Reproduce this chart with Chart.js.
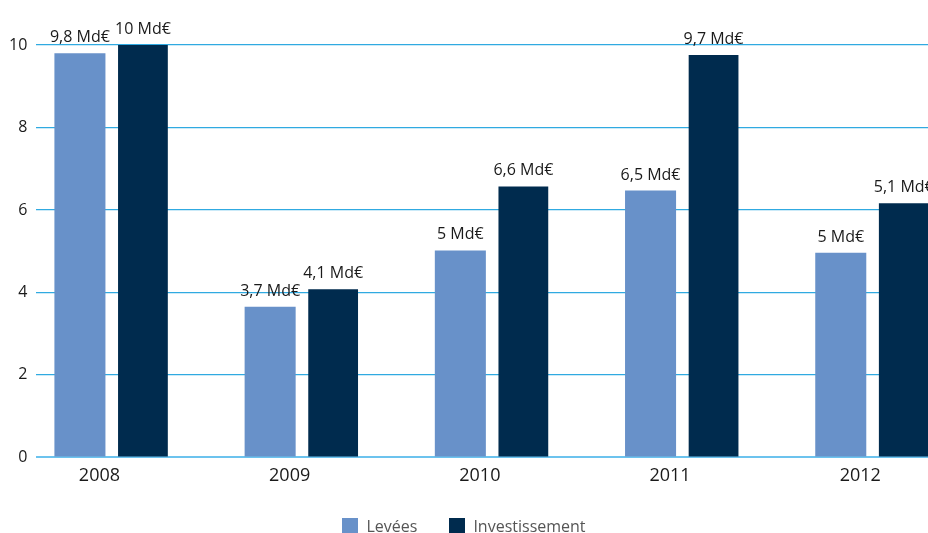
<!DOCTYPE html>
<html>
<head>
<meta charset="utf-8">
<script src="https://cdn.jsdelivr.net/npm/chart.js@4.4.1/dist/chart.umd.min.js"></script>
<style>
  html, body { margin: 0; padding: 0; background: #ffffff; }
  #wrap { width: 928px; height: 533px; position: relative; }
</style>
</head>
<body>
<div id="wrap"><canvas id="c" width="928" height="533"></canvas></div>
<script>
// ---- data ----
const years = ['2008', '2009', '2010', '2011', '2012'];
const levees = [9.8, 3.65, 5.02, 6.47, 4.96];
const investissement = [10.0, 4.08, 6.57, 9.76, 6.16];
const leveesLabels = ['9,8 Md€', '3,7 Md€', '5 Md€', '6,5 Md€', '5 Md€'];
const investLabels = ['10 Md€', '4,1 Md€', '6,6 Md€', '9,7 Md€', '5,1 Md€'];
const seriesNames = ['Levées', 'Investissement'];
const yTicks = [0, 2, 4, 6, 8, 10];

const FONT = "'Open Sans', 'Liberation Sans', sans-serif";
const COL_L = '#6891C9';
const COL_I = '#002B4E';

const valueLabels = [leveesLabels, investLabels];

const barLabelPlugin = {
  id: 'barLabels',
  afterDatasetsDraw(chart) {
    const ctx = chart.ctx;
    ctx.save();
    ctx.font = '16px ' + FONT;
    ctx.fillStyle = '#1a1a1a';
    ctx.textAlign = 'center';
    ctx.textBaseline = 'alphabetic';
    chart.data.datasets.forEach((ds, di) => {
      const meta = chart.getDatasetMeta(di);
      meta.data.forEach((el, i) => {
        ctx.fillText(valueLabels[di][i], el.x, el.y - 11);
      });
    });
    ctx.restore();
  }
};

const legendPlugin = {
  id: 'customLegend',
  afterDraw(chart) {
    const ctx = chart.ctx;
    ctx.save();
    ctx.font = '16px ' + FONT;
    const box = 16, boxH = 15, txtGap = 8, itemGap = 32;
    const items = chart.data.datasets.map(ds => ({ text: ds.label, color: ds.backgroundColor }));
    const widths = items.map(it => box + txtGap + ctx.measureText(it.text).width);
    const total = widths.reduce((a, b) => a + b, 0) + itemGap * (items.length - 1);
    let x = (chart.width - total) / 2;
    const boxTop = 518;
    items.forEach((it, i) => {
      ctx.fillStyle = it.color;
      ctx.fillRect(Math.round(x), boxTop, box, boxH);
      ctx.fillStyle = '#555555';
      ctx.textAlign = 'left';
      ctx.textBaseline = 'alphabetic';
      ctx.fillText(it.text, x + box + txtGap, 532);
      x += widths[i] + itemGap;
    });
    ctx.restore();
  }
};

new Chart(document.getElementById('c'), {
  type: 'bar',
  data: {
    datasets: [
      {
        label: seriesNames[0],
        data: years.map((y, i) => ({ x: i, y: levees[i] })),
        backgroundColor: COL_L,
        categoryPercentage: 0.6625,
        barPercentage: 0.81
      },
      {
        label: seriesNames[1],
        data: years.map((y, i) => ({ x: i, y: investissement[i] })),
        backgroundColor: COL_I,
        categoryPercentage: 0.6625,
        barPercentage: 0.79
      }
    ]
  },
  options: {
    responsive: false,
    animation: false,
    devicePixelRatio: 1,
    layout: { padding: { top: 45, left: 0, right: 0, bottom: 38 } },
    plugins: {
      legend: { display: false },
      tooltip: { enabled: false }
    },
    scales: {
      x: {
        type: 'linear',
        offset: false,
        min: -0.395,
        max: 4.293,
        grid: { display: false, drawTicks: false, offset: false },
        border: { display: false },
        afterBuildTicks(scale) {
          scale.ticks = years.map((_, i) => ({ value: i }));
        },
        ticks: {
          autoSkip: false,
          maxRotation: 0,
          padding: 8,
          labelOffset: -12,
          color: '#1a1a1a',
          font: { family: FONT, size: 18 },
          callback: (v) => years[v]
        }
      },
      y: {
        min: 0,
        max: 10,
        afterBuildTicks(scale) {
          scale.ticks = yTicks.map(v => ({ value: v }));
        },
        grid: {
          color: (c) => c.tick && c.tick.value === 0 ? '#6CC3EE' : '#30AAE1',
          lineWidth: (c) => c.tick && c.tick.value === 0 ? 2 : 1.2,
          drawTicks: false
        },
        border: { display: false },
        ticks: {
          padding: 9,
          color: '#1a1a1a',
          font: { family: FONT, size: 16 }
        }
      }
    }
  },
  plugins: [barLabelPlugin, legendPlugin]
});
</script>
</body>
</html>
